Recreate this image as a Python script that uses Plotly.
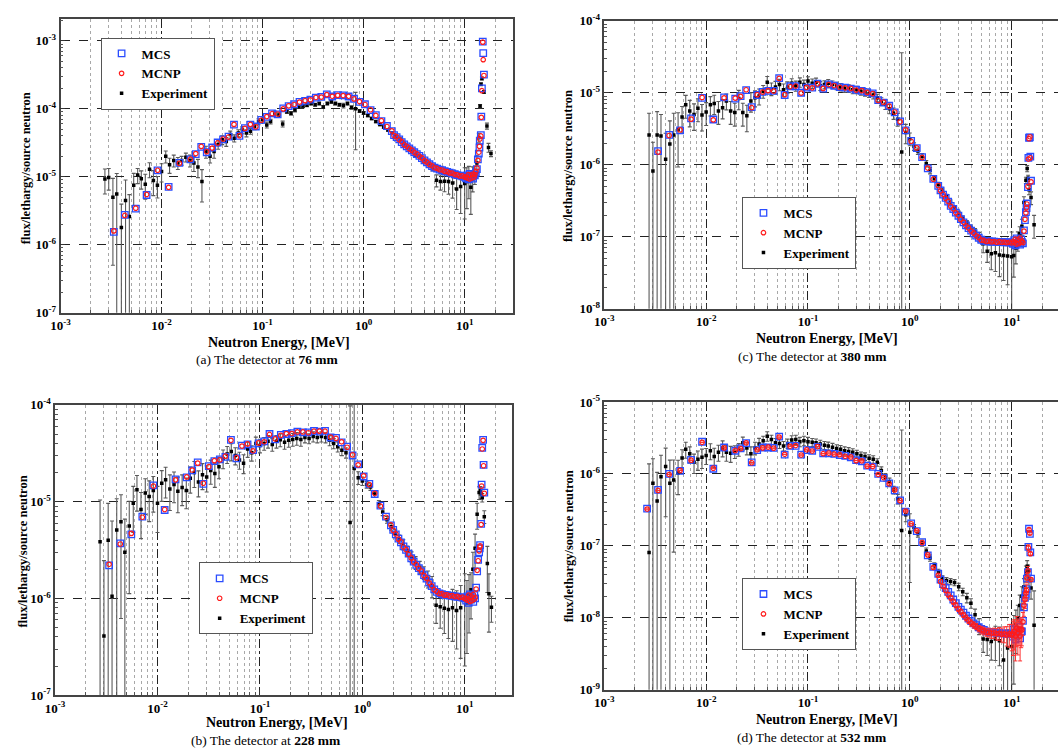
import math
import plotly.graph_objects as go

FONT = "Liberation Serif"
W, H = 1058, 755

# ---------------- energy grids (MeV) ----------------
sim_energy = [
    0.00263, 0.00337, 0.00433, 0.00555, 0.00711, 0.00912, 0.01175, 0.0150, 0.0193,
    0.0218, 0.0247, 0.0280, 0.0317, 0.0359, 0.0406, 0.0460, 0.0521, 0.0590, 0.0668, 0.0757, 0.0857, 0.0970,
    0.110, 0.124, 0.141, 0.160, 0.181, 0.205, 0.232, 0.263, 0.297, 0.337, 0.381,
    0.432, 0.489, 0.553, 0.627, 0.710, 0.803, 0.910, 1.03, 1.17, 1.32, 1.50,
    1.70, 1.90, 2.00, 2.12, 2.25, 2.38, 2.52, 2.67, 2.83, 3.00,
    3.17, 3.36, 3.56, 3.77, 4.00, 4.23, 4.48, 4.75, 5.03, 5.33,
    5.65, 5.98, 6.34, 6.71, 7.11, 7.53, 7.98, 8.45, 8.95, 9.48, 10.0,
    10.3, 10.6, 10.9, 11.2, 11.5, 11.8, 12.1, 12.4,
    12.6, 12.9, 13.2, 13.5, 13.8, 14.0, 14.1, 14.45, 14.6, 14.8, 15.1, 15.25, 15.5,
]

exp_energy = [
    0.00275, 0.0030, 0.0033, 0.0036, 0.0040, 0.0044, 0.0048, 0.0053, 0.0058, 0.0063,
    0.0069, 0.0076, 0.0083, 0.0091, 0.0100, 0.0110, 0.0120, 0.0132, 0.0145, 0.0158,
    0.0174, 0.0191, 0.0209, 0.0229, 0.0251, 0.0275, 0.0302, 0.0331, 0.0363, 0.0398,
    0.0437, 0.0479, 0.0525, 0.0575, 0.0631, 0.0692, 0.0759, 0.0832, 0.0912, 0.100,
    0.110, 0.120, 0.132, 0.145, 0.158, 0.174, 0.191, 0.209, 0.229, 0.251,
    0.275, 0.302, 0.331, 0.363, 0.398, 0.437, 0.479, 0.525, 0.575, 0.631,
    0.692, 0.759, 0.832, 0.912, 1.00, 1.10, 1.20, 1.32, 1.45, 1.58,
    1.74, 1.91, 2.09, 2.29, 2.51, 2.75, 3.02, 3.31, 3.63, 3.98,
    4.37, 4.79, 5.25, 5.75, 6.31, 6.92, 7.59, 8.32, 9.12, 10.0,
    10.5, 11.0, 11.5, 12.0, 12.6, 13.2, 13.8, 14.2, 14.5, 14.8,
    15.5, 16.6, 17.2, 18.2,
]

# ---------------- detector at 76 mm ----------------
mcs_76 = [
    None, 1.55e-6, 2.75e-6, 3.4e-6, 5.4e-6, 1.24e-5, 7.1e-6, 1.6e-5, 1.8e-5,
    2.16e-5, 2.75e-5, 2.3e-5, 2.7e-5, 3.2e-5, 3.55e-5, 3.9e-5, 5.85e-5, 4.0e-5, 5.2e-5, 5.85e-5, 5.5e-5, 6.9e-5,
    7.6e-5, 8.6e-5, 8.3e-5, 1.02e-4, 1.1e-4, 1.17e-4, 1.27e-4, 1.31e-4, 1.37e-4, 1.46e-4, 1.5e-4,
    1.63e-4, 1.52e-4, 1.59e-4, 1.58e-4, 1.52e-4, 1.41e-4, 1.27e-4, 1.17e-4, 9.6e-5, 8.1e-5, 6.6e-5,
    5.6e-5, 4.7e-5, 4.1e-5, 3.85e-5, 3.55e-5, 3.25e-5, 3.0e-5, 2.8e-5, 2.62e-5, 2.45e-5,
    2.3e-5, 2.16e-5, 2.03e-5, 1.88e-5, 1.75e-5, 1.63e-5, 1.53e-5, 1.44e-5, 1.37e-5, 1.32e-5,
    1.28e-5, 1.25e-5, 1.21e-5, 1.18e-5, 1.15e-5, 1.12e-5, 1.09e-5, 1.06e-5, 1.04e-5, 1.02e-5, 1.0e-5,
    9.5e-6, 1.05e-5, 9.2e-6, 1.1e-5, 9.8e-6, 1.02e-5, 9.4e-6, 1.08e-5,
    1.05e-5, 1.15e-5, 1.3e-5, 1.8e-5, 2.2e-5, 2.7e-5, 3.4e-5, 4.1e-5, 7.7e-5, 2.0e-4, 9.8e-4, 6.6e-4, 3.2e-4,
]
mcnp_76 = [
    None, 1.6e-6, 2.7e-6, 3.45e-6, 5.5e-6, 1.25e-5, 7.0e-6, 1.58e-5, 1.82e-5,
    2.2e-5, 2.8e-5, 2.35e-5, 2.65e-5, 3.15e-5, 3.6e-5, 3.85e-5, 5.9e-5, 4.05e-5, 5.15e-5, 5.9e-5, 5.45e-5, 6.8e-5,
    7.7e-5, 8.5e-5, 8.4e-5, 1.0e-4, 1.11e-4, 1.16e-4, 1.26e-4, 1.32e-4, 1.36e-4, 1.47e-4, 1.49e-4,
    1.62e-4, 1.53e-4, 1.58e-4, 1.57e-4, 1.53e-4, 1.4e-4, 1.28e-4, 1.16e-4, 9.7e-5, 8.0e-5, 6.7e-5,
    5.5e-5, 4.75e-5, 4.05e-5, 3.9e-5, 3.5e-5, 3.3e-5, 2.95e-5, 2.82e-5, 2.6e-5, 2.47e-5,
    2.28e-5, 2.18e-5, 2.0e-5, 1.9e-5, 1.73e-5, 1.64e-5, 1.52e-5, 1.45e-5, 1.36e-5, 1.33e-5,
    1.27e-5, 1.26e-5, 1.2e-5, 1.19e-5, 1.14e-5, 1.13e-5, 1.08e-5, 1.07e-5, 1.03e-5, 1.03e-5, 9.9e-6,
    1.0e-5, 9.6e-6, 1.08e-5, 9.3e-6, 1.06e-5, 9.6e-6, 1.1e-5, 9.9e-6,
    1.08e-5, 1.2e-5, 1.35e-5, 1.75e-5, 2.3e-5, 2.8e-5, 3.6e-5, 4.0e-5, 7.5e-5, 1.85e-4, 9.6e-4, 5.3e-4, 3.1e-4,
]
exp_76 = [
    9.3e-6, 9.8e-6, 5.0e-6, 5.6e-6, 1.8e-6, 4.5e-6, 2.6e-6, 7.5e-6, 1.06e-5, 9.4e-6,
    7.8e-6, 1.29e-5, 8.8e-6, 7.5e-6, 1.2e-5, 2.0e-5, 1.5e-5, 1.74e-5, 1.6e-5, 1.74e-5,
    1.94e-5, 1.74e-5, 1.6e-5, 1.39e-5, 8.5e-6, 2.35e-5, 2.0e-5, 2.35e-5, 3.0e-5, 3.5e-5,
    3.3e-5, 4.2e-5, 3.7e-5, 4.4e-5, 4.9e-5, 4.4e-5, 4.7e-5, 5.5e-5, 6.5e-5, 6.9e-5,
    5.8e-5, 6.5e-5, 8.6e-5, 8.1e-5, 6.0e-5, 9.1e-5, 8.6e-5, 9.6e-5, 1.07e-4, 1.1e-4,
    1.13e-4, 1.2e-4, 1.15e-4, 1.2e-4, 1.07e-4, 1.2e-4, 1.27e-4, 1.2e-4, 1.15e-4, 1.12e-4,
    1.2e-4, 1.05e-4, 1.0e-4, 9.3e-5, 8.7e-5, 8.0e-5, 7.2e-5, 6.5e-5, 5.9e-5, 5.4e-5,
    4.9e-5, 4.4e-5, 3.95e-5, 3.57e-5, 3.1e-5, 2.7e-5, 2.35e-5, 2.1e-5, 1.94e-5, 1.72e-5,
    1.55e-5, 1.35e-5, 8.9e-6, 8.5e-6, 8.6e-6, 8.5e-6, 8.1e-6, 6.6e-6, 7.2e-6, 8.0e-6,
    8.5e-6, 9.5e-6, 7.0e-6, 1.0e-5, 1.1e-5, 1.6e-5, 3.8e-5, 1.1e-4, 2.3e-4, 2.8e-4,
    1.77e-4, 5.6e-5, 2.7e-5, 2.2e-5,
]
exp_rel_err_76 = [
    0.4, 0.35, 0.9, 1.0, 1.2, 1.0, 1.1, 0.5, 0.25, 0.3,
    0.4, 0.25, 0.4, 0.35, 0.3, 0.2, 0.25, 0.2, 0.2, 0.15,
    0.15, 0.2, 0.25, 0.3, 0.5, 0.2, 0.2, 0.2, 0.15, 0.15,
    0.15, 0.12, 0.12, 0.12, 0.12, 0.12, 0.1, 0.1, 0.1, 0.1,
    0.1, 0.08, 0.08, 0.08, 0.1, 0.06, 0.06, 0.06, 0.05, 0.05,
    0.05, 0.05, 0.05, 0.05, 0.05, 0.05, 0.05, 0.05, 0.05, 0.08,
    0.05, 0.06, 0.75, 0.05, 0.05, 0.04, 0.04, 0.04, 0.04, 0.04,
    0.04, 0.04, 0.04, 0.04, 0.05, 0.05, 0.05, 0.05, 0.05, 0.05,
    0.06, 0.1, 0.2, 0.25, 0.3, 0.35, 0.4, 0.5, 0.6, 0.7,
    0.6, 0.5, 0.6, 0.4, 0.3, 0.3, 0.15, 0.05, 0.05, 0.05,
    0.05, 0.1, 0.15, 0.1,
]

# ---------------- detector at 380 mm ----------------
mcs_380 = [
    None, 1.55e-6, 2.6e-6, 3.0e-6, 4.4e-6, 8.5e-6, 4.25e-6, 8.6e-6, 8.3e-6,
    9.0e-6, 1.09e-5, 6.3e-6, 9.3e-6, 1.03e-5, 1.06e-5, 1.06e-5, 1.6e-5, 9.3e-6, 1.23e-5, 1.23e-5, 1.0e-5, 1.18e-5,
    1.18e-5, 1.34e-5, 1.14e-5, 1.31e-5, 1.25e-5, 1.2e-5, 1.18e-5, 1.14e-5, 1.1e-5, 1.06e-5, 1.02e-5,
    9.8e-6, 7.9e-6, 7.3e-6, 6.6e-6, 5.35e-6, 4.0e-6, 3.0e-6, 2.15e-6, 1.7e-6, 1.28e-6, 8.9e-7,
    6.35e-7, 5.1e-7, 4.4e-7, 3.85e-7, 3.47e-7, 3.08e-7, 2.68e-7, 2.43e-7, 2.17e-7, 1.96e-7,
    1.76e-7, 1.58e-7, 1.44e-7, 1.32e-7, 1.22e-7, 1.12e-7, 1.04e-7, 9.7e-8, 9.1e-8, 8.8e-8,
    8.7e-8, 8.6e-8, 8.6e-8, 8.55e-8, 8.5e-8, 8.5e-8, 8.45e-8, 8.4e-8, 8.4e-8, 8.35e-8, 8.3e-8,
    8.0e-8, 9.0e-8, 7.6e-8, 9.5e-8, 8.2e-8, 8.8e-8, 7.8e-8, 9.2e-8,
    8.5e-8, 8.1e-8, 1.23e-7, 1.7e-7, 2.2e-7, 2.5e-7, 2.9e-7, 4.9e-7, 1.25e-6, 2.37e-6, 2.4e-6, 1.3e-6, 6.0e-7,
]
mcnp_380 = [
    None, 1.5e-6, 2.55e-6, 3.05e-6, 4.3e-6, 8.6e-6, 4.2e-6, 8.5e-6, 8.4e-6,
    8.9e-6, 1.1e-5, 6.2e-6, 9.4e-6, 1.02e-5, 1.07e-5, 1.05e-5, 1.58e-5, 9.4e-6, 1.22e-5, 1.24e-5, 9.9e-6, 1.19e-5,
    1.17e-5, 1.33e-5, 1.15e-5, 1.3e-5, 1.26e-5, 1.19e-5, 1.17e-5, 1.15e-5, 1.09e-5, 1.07e-5, 1.01e-5,
    9.7e-6, 7.8e-6, 7.4e-6, 6.5e-6, 5.4e-6, 3.95e-6, 3.05e-6, 2.12e-6, 1.72e-6, 1.26e-6, 9.0e-7,
    6.3e-7, 5.15e-7, 4.35e-7, 3.9e-7, 3.42e-7, 3.1e-7, 2.65e-7, 2.45e-7, 2.15e-7, 1.98e-7,
    1.74e-7, 1.6e-7, 1.42e-7, 1.33e-7, 1.2e-7, 1.13e-7, 1.03e-7, 9.8e-8, 9.0e-8, 8.9e-8,
    8.6e-8, 8.7e-8, 8.5e-8, 8.6e-8, 8.4e-8, 8.55e-8, 8.4e-8, 8.45e-8, 8.3e-8, 8.4e-8, 8.2e-8,
    8.6e-8, 8.3e-8, 9.3e-8, 7.9e-8, 9.1e-8, 8.1e-8, 9.6e-8, 8.4e-8,
    8.8e-8, 8.3e-8, 1.2e-7, 1.75e-7, 2.15e-7, 2.55e-7, 2.85e-7, 5.0e-7, 1.2e-6, 2.3e-6, 2.45e-6, 1.25e-6, 5.8e-7,
]
exp_380 = [
    2.6e-6, 8.2e-7, 2.6e-6, 2.5e-6, 1.19e-6, 1.94e-6, 2.6e-6, 3.1e-6, 4.6e-6, 6.8e-6,
    5.6e-6, 5.0e-6, 6.1e-6, 4.9e-6, 5.4e-6, 6.8e-6, 7.1e-6, 5.6e-6, 6.2e-6, 7.7e-6,
    5.6e-6, 5.3e-6, 8.3e-6, 5.3e-6, 4.8e-6, 7.7e-6, 8.5e-6, 9.0e-6, 1.05e-5, 1.4e-5,
    1.14e-5, 1.2e-5, 1.3e-5, 1.1e-5, 1.2e-5, 1.35e-5, 1.25e-5, 1.4e-5, 1.3e-5, 1.45e-5,
    1.35e-5, 1.4e-5, 1.25e-5, 1.3e-5, 1.35e-5, 1.3e-5, 1.25e-5, 1.2e-5, 1.15e-5, 1.15e-5,
    1.1e-5, 1.1e-5, 1.05e-5, 1.02e-5, 9.8e-6, 9.3e-6, 8.5e-6, 7.6e-6, 6.9e-6, 6.0e-6,
    5.2e-6, 4.3e-6, 1.5e-6, 2.8e-6, 2.3e-6, 1.8e-6, 1.55e-6, 1.3e-6, 1.04e-6, 8.3e-7,
    6.5e-7, 5.3e-7, 4.4e-7, 3.6e-7, 3.0e-7, 2.5e-7, 2.1e-7, 1.8e-7, 1.55e-7, 1.35e-7,
    1.18e-7, 1.0e-7, 8.0e-8, 6.3e-8, 5.8e-8, 6.0e-8, 5.6e-8, 5.5e-8, 5.4e-8, 5.3e-8,
    5.5e-8, 7.0e-8, 9.0e-8, 1.1e-7, 1.4e-7, 3.0e-7, 6.1e-7, 8.9e-7, 6.5e-7, 4.5e-7,
    3.5e-7, 1.47e-7, None, None,
]
exp_rel_err_380 = [
    1.0, 1.5, 1.1, 1.0, 1.3, 1.1, 1.0, 0.7, 0.4, 0.35,
    0.4, 0.4, 0.35, 0.4, 0.35, 0.3, 0.3, 0.35, 0.3, 0.25,
    0.35, 0.35, 0.3, 0.35, 0.4, 0.3, 0.25, 0.25, 0.2, 0.2,
    0.2, 0.2, 0.18, 0.2, 0.18, 0.16, 0.16, 0.15, 0.15, 0.15,
    0.15, 0.14, 0.14, 0.13, 0.13, 0.12, 0.12, 0.12, 0.12, 0.12,
    0.12, 0.12, 0.12, 0.12, 0.12, 0.12, 0.12, 0.12, 0.15, 0.15,
    0.18, 0.2, 23.0, 0.3, 0.2, 0.12, 0.1, 0.1, 0.1, 0.1,
    0.08, 0.08, 0.08, 0.08, 0.08, 0.08, 0.08, 0.08, 0.08, 0.08,
    0.1, 0.15, 0.25, 0.3, 0.4, 0.45, 0.5, 0.55, 0.6, 1.2,
    0.5, 0.4, 0.3, 0.25, 0.25, 0.2, 0.1, 0.1, 0.1, 0.15,
    0.2, 0.35, None, None,
]

# ---------------- detector at 228 mm ----------------
mcs_228 = [
    None, 2.2e-6, 3.7e-6, 4.6e-6, 7.0e-6, 1.47e-5, 8.2e-6, 1.7e-5, 1.78e-5,
    2.1e-5, 2.54e-5, 1.53e-5, 2.33e-5, 2.62e-5, 2.74e-5, 2.9e-5, 4.35e-5, 2.8e-5, 3.8e-5, 3.9e-5, 3.4e-5, 4.0e-5,
    4.2e-5, 5.0e-5, 4.4e-5, 4.9e-5, 5.0e-5, 5.1e-5, 5.3e-5, 5.2e-5, 5.2e-5, 5.4e-5, 5.3e-5,
    5.4e-5, 4.6e-5, 4.55e-5, 4.1e-5, 3.7e-5, 3.0e-5, 2.43e-5, 1.82e-5, 1.53e-5, 1.2e-5, 9.1e-6,
    7.0e-6, 5.7e-6, 5.1e-6, 4.6e-6, 4.15e-6, 3.8e-6, 3.45e-6, 3.17e-6, 2.9e-6, 2.6e-6,
    2.4e-6, 2.22e-6, 2.06e-6, 1.9e-6, 1.74e-6, 1.6e-6, 1.46e-6, 1.34e-6, 1.24e-6, 1.17e-6,
    1.13e-6, 1.11e-6, 1.09e-6, 1.08e-6, 1.07e-6, 1.06e-6, 1.05e-6, 1.04e-6, 1.03e-6, 1.02e-6, 1.0e-6,
    9.5e-7, 1.05e-6, 9.0e-7, 1.1e-6, 9.7e-7, 1.03e-6, 9.2e-7, 1.08e-6,
    1.0e-6, 1.29e-6, 1.9e-6, 2.5e-6, 3.0e-6, 3.3e-6, 3.56e-6, 5.9e-6, 1.5e-5, 3.6e-5, 4.35e-5, 2.4e-5, 1.24e-5,
]
mcnp_228 = [
    None, 2.25e-6, 3.65e-6, 4.7e-6, 6.9e-6, 1.45e-5, 8.3e-6, 1.68e-5, 1.8e-5,
    2.12e-5, 2.5e-5, 1.55e-5, 2.3e-5, 2.65e-5, 2.7e-5, 2.95e-5, 4.3e-5, 2.85e-5, 3.75e-5, 3.95e-5, 3.35e-5, 4.05e-5,
    4.15e-5, 4.95e-5, 4.45e-5, 4.85e-5, 5.05e-5, 5.05e-5, 5.25e-5, 5.25e-5, 5.15e-5, 5.35e-5, 5.35e-5,
    5.35e-5, 4.65e-5, 4.5e-5, 4.15e-5, 3.65e-5, 3.05e-5, 2.4e-5, 1.85e-5, 1.5e-5, 1.22e-5, 9.0e-6,
    6.9e-6, 5.75e-6, 5.05e-6, 4.65e-6, 4.1e-6, 3.85e-6, 3.4e-6, 3.2e-6, 2.85e-6, 2.62e-6,
    2.38e-6, 2.24e-6, 2.04e-6, 1.92e-6, 1.72e-6, 1.62e-6, 1.45e-6, 1.35e-6, 1.23e-6, 1.18e-6,
    1.12e-6, 1.12e-6, 1.08e-6, 1.09e-6, 1.06e-6, 1.07e-6, 1.04e-6, 1.05e-6, 1.02e-6, 1.03e-6, 9.9e-7,
    1.0e-6, 9.6e-7, 1.08e-6, 9.3e-7, 1.06e-6, 9.5e-7, 1.1e-6, 9.8e-7,
    1.02e-6, 1.25e-6, 1.95e-6, 2.45e-6, 3.1e-6, 3.4e-6, 3.5e-6, 5.8e-6, 1.45e-5, 3.5e-5, 4.3e-5, 2.35e-5, 1.22e-5,
]
exp_228 = [
    3.85e-6, 4.1e-7, 4.0e-6, 1.05e-6, 5.1e-6, 6.2e-6, 3.0e-6, 5.6e-6, 9.6e-6, 1.33e-5,
    8.3e-6, 1.23e-5, 1.13e-5, 1.3e-5, 9.6e-6, 1.55e-5, 1.68e-5, 1.35e-5, 1.5e-5, 1.28e-5,
    1.4e-5, 1.3e-5, 1.75e-5, 2.0e-5, 1.6e-5, 1.9e-5, 1.8e-5, 2.1e-5, 1.95e-5, 2.3e-5,
    2.8e-5, 3.1e-5, 3.3e-5, 3.0e-5, 2.7e-5, 2.5e-5, 3.5e-5, 3.2e-5, 4.0e-5, 3.8e-5,
    4.0e-5, 4.2e-5, 3.9e-5, 4.2e-5, 4.35e-5, 4.1e-5, 4.3e-5, 4.4e-5, 4.5e-5, 4.4e-5,
    4.6e-5, 4.5e-5, 4.7e-5, 4.6e-5, 4.7e-5, 4.6e-5, 4.3e-5, 4.0e-5, 3.7e-5, 3.4e-5,
    3.2e-5, 6.1e-6, 2.2e-5, 1.77e-5, 1.63e-5, 1.5e-5, 1.42e-5, 1.2e-5, 9.5e-6, 7.8e-6,
    6.5e-6, 5.5e-6, 4.7e-6, 4.1e-6, 3.6e-6, 3.1e-6, 2.7e-6, 2.35e-6, 2.1e-6, 1.85e-6,
    1.6e-6, 1.35e-6, 8.5e-7, 8.2e-7, 7.9e-7, 7.7e-7, 8.0e-7, 7.5e-7, 8.0e-7, 1.0e-6,
    9.0e-7, 1.1e-6, 1.23e-6, 2.0e-6, 3.3e-6, 7.4e-6, 1.24e-5, 1.3e-5, 1.2e-5, 1.1e-5,
    7.0e-6, 2.3e-6, 1.12e-6, 8.1e-7,
]
exp_rel_err_228 = [
    1.7, 5.0, 1.4, 5.0, 1.1, 0.9, 1.2, 0.8, 0.5, 0.4,
    0.5, 0.4, 0.45, 0.4, 0.5, 0.35, 0.35, 0.4, 0.35, 0.4,
    0.35, 0.35, 0.3, 0.3, 0.3, 0.3, 0.3, 0.28, 0.28, 0.25,
    0.22, 0.2, 0.2, 0.2, 0.2, 0.22, 0.18, 0.18, 0.16, 0.16,
    0.15, 0.15, 0.15, 0.15, 0.15, 0.15, 0.15, 0.15, 0.15, 0.15,
    0.12, 0.12, 0.12, 0.12, 0.12, 0.12, 0.12, 0.12, 0.12, 0.12,
    0.12, 15.0, 4.0, 0.15, 0.1, 0.08, 0.08, 0.08, 0.08, 0.08,
    0.08, 0.08, 0.1, 0.1, 0.12, 0.12, 0.12, 0.15, 0.15, 0.15,
    0.2, 0.25, 0.35, 0.4, 0.45, 0.5, 0.55, 0.6, 0.7, 0.8,
    0.7, 0.6, 0.5, 0.5, 0.4, 0.3, 0.15, 0.1, 0.1, 0.1,
    0.15, 0.5, 0.6, 0.3,
]

# ---------------- detector at 532 mm ----------------
mcs_532 = [
    3.3e-7, 6.0e-7, 1.0e-6, 1.1e-6, 1.57e-6, 2.8e-6, 1.18e-6, 2.33e-6, 2.1e-6,
    2.26e-6, 2.67e-6, 1.45e-6, 2.14e-6, 2.33e-6, 2.33e-6, 2.3e-6, 3.3e-6, 1.85e-6, 2.45e-6, 2.45e-6, 1.85e-6, 2.14e-6,
    2.1e-6, 2.38e-6, 1.93e-6, 1.93e-6, 1.9e-6, 1.83e-6, 1.78e-6, 1.7e-6, 1.55e-6, 1.5e-6, 1.3e-6,
    1.25e-6, 1.0e-6, 8.8e-7, 7.4e-7, 5.9e-7, 4.3e-7, 3.0e-7, 2.06e-7, 1.6e-7, 1.13e-7, 7.4e-8,
    5.1e-8, 4.1e-8, 3.4e-8, 2.95e-8, 2.6e-8, 2.3e-8, 2.05e-8, 1.8e-8, 1.6e-8, 1.42e-8,
    1.3e-8, 1.18e-8, 1.07e-8, 9.8e-9, 9.0e-9, 8.4e-9, 7.9e-9, 7.4e-9, 7.05e-9, 6.8e-9,
    6.5e-9, 6.4e-9, 6.3e-9, 6.3e-9, 6.2e-9, 6.2e-9, 6.1e-9, 6.1e-9, 6.0e-9, 6.1e-9, 6.0e-9,
    5.5e-9, 7.0e-9, 5.0e-9, 6.8e-9, 5.8e-9, 7.5e-9, 5.2e-9, 6.5e-9,
    6.5e-9, 9.1e-9, 1.4e-8, 1.9e-8, 2.1e-8, 2.5e-8, 3.5e-8, 4.3e-8, 9.7e-8, 1.73e-7, 1.47e-7, 8.1e-8, 3.5e-8,
]
mcnp_532 = [
    3.25e-7, 5.9e-7, 9.8e-7, 1.12e-6, 1.55e-6, 2.75e-6, 1.2e-6, 2.3e-6, 2.12e-6,
    2.24e-6, 2.7e-6, 1.43e-6, 2.16e-6, 2.3e-6, 2.36e-6, 2.28e-6, 3.25e-6, 1.87e-6, 2.42e-6, 2.48e-6, 1.83e-6, 2.16e-6,
    2.08e-6, 2.4e-6, 1.91e-6, 1.95e-6, 1.88e-6, 1.85e-6, 1.76e-6, 1.72e-6, 1.53e-6, 1.52e-6, 1.28e-6,
    1.27e-6, 9.8e-7, 8.9e-7, 7.3e-7, 6.0e-7, 4.25e-7, 3.05e-7, 2.03e-7, 1.62e-7, 1.11e-7, 7.5e-8,
    5.0e-8, 3.9e-8, 3.2e-8, 2.75e-8, 2.4e-8, 2.1e-8, 1.9e-8, 1.68e-8, 1.5e-8, 1.33e-8,
    1.22e-8, 1.1e-8, 1.0e-8, 9.2e-9, 8.5e-9, 8.0e-9, 7.6e-9, 7.1e-9, 6.8e-9, 6.6e-9,
    6.3e-9, 6.3e-9, 6.1e-9, 6.2e-9, 6.0e-9, 6.1e-9, 5.9e-9, 6.0e-9, 5.8e-9, 6.0e-9, 5.8e-9,
    6.0e-9, 6.5e-9, 5.6e-9, 7.2e-9, 6.1e-9, 6.9e-9, 5.6e-9, 7.0e-9,
    6.8e-9, 8.8e-9, 1.5e-8, 1.8e-8, 2.2e-8, 2.4e-8, 3.6e-8, 4.5e-8, 9.4e-8, 1.68e-7, 1.5e-7, 7.8e-8, 3.4e-8,
]
mcnp_rel_err_532 = [
    0, 0, 0, 0, 0, 0, 0, 0, 0,
    0, 0, 0, 0, 0, 0, 0, 0, 0, 0, 0, 0, 0,
    0, 0, 0, 0, 0, 0, 0, 0, 0, 0, 0,
    0, 0, 0, 0, 0, 0, 0, 0, 0, 0, 0,
    0.05, 0.05, 0.06, 0.06, 0.06, 0.07, 0.07, 0.08, 0.08, 0.08,
    0.08, 0.08, 0.09, 0.09, 0.1, 0.1, 0.1, 0.1, 0.12, 0.12,
    0.12, 0.14, 0.15, 0.16, 0.18, 0.2, 0.22, 0.25, 0.3, 0.35, 0.4,
    0.5, 0.45, 0.55, 0.45, 0.5, 0.4, 0.55, 0.45,
    0.4, 0.35, 0.3, 0.25, 0.2, 0.2, 0.15, 0.15, 0.1, 0.05, 0.05, 0.05, 0.05,
]
exp_532 = [
    8.1e-8, 7.4e-7, 4.2e-7, 9.1e-7, 1.27e-6, 7.4e-7, 8.2e-7, 1.03e-6, 1.67e-6, 2.2e-6,
    1.9e-6, 1.45e-6, 1.6e-6, 1.7e-6, 1.8e-6, 2.1e-6, 1.75e-6, 2.0e-6, 2.3e-6, 2.0e-6,
    1.93e-6, 2.05e-6, 2.2e-6, 2.7e-6, 2.3e-6, 1.9e-6, 2.3e-6, 2.6e-6, 2.9e-6, 3.35e-6,
    3.0e-6, 2.7e-6, 2.65e-6, 2.45e-6, 2.65e-6, 2.95e-6, 3.0e-6, 2.8e-6, 2.9e-6, 2.8e-6,
    2.75e-6, 2.7e-6, 2.6e-6, 2.5e-6, 2.45e-6, 2.35e-6, 2.25e-6, 2.2e-6, 2.1e-6, 2.05e-6,
    2.0e-6, 1.9e-6, 1.8e-6, 1.75e-6, 1.65e-6, 1.6e-6, 1.45e-6, 1.12e-6, 9.0e-7, 7.8e-7,
    6.0e-7, 4.5e-7, 1.63e-7, 2.7e-7, 1.55e-7, 1.8e-7, 1.47e-7, 1.1e-7, 8.5e-8, 6.8e-8,
    5.3e-8, 4.3e-8, 3.5e-8, 3.3e-8, 3.2e-8, 3.1e-8, 2.7e-8, 2.3e-8, 1.9e-8, 1.6e-8,
    1.1e-8, 7.8e-9, 5.1e-9, 5.0e-9, 4.7e-9, 5.1e-9, 4.8e-9, 2.6e-9, 3.8e-9, 4.0e-9,
    6.0e-9, 8.0e-9, 1.0e-8, 1.48e-8, 2.0e-8, 2.7e-8, 4.2e-8, 5.2e-8, 4.5e-8, 3.5e-8,
    2.6e-8, 7.9e-9, None, None,
]
exp_rel_err_532 = [
    16.0, 1.2, 1.5, 1.0, 0.8, 1.1, 0.9, 0.5, 0.3, 0.25,
    0.25, 0.3, 0.3, 0.3, 0.25, 0.25, 0.3, 0.25, 0.25, 0.25,
    0.25, 0.2, 0.2, 0.2, 0.2, 0.25, 0.2, 0.2, 0.15, 0.15,
    0.15, 0.15, 0.15, 0.15, 0.15, 0.15, 0.15, 0.15, 0.15, 0.15,
    0.13, 0.13, 0.13, 0.13, 0.13, 0.13, 0.13, 0.13, 0.13, 0.13,
    0.12, 0.12, 0.12, 0.12, 0.12, 0.12, 0.12, 0.12, 0.12, 0.12,
    0.12, 0.15, 24.0, 0.2, 0.8, 0.1, 0.1, 0.1, 0.1, 0.1,
    0.1, 0.1, 0.1, 0.1, 0.1, 0.1, 0.12, 0.12, 0.15, 0.15,
    0.2, 0.25, 0.35, 0.4, 0.45, 0.5, 0.55, 1.2, 0.8, 0.9,
    0.8, 0.6, 0.5, 0.4, 0.35, 0.3, 0.25, 0.2, 0.2, 0.25,
    0.3, 2.0, None, None,
]

x_tick_vals = [1e-3, 1e-2, 1e-1, 1e0, 1e1]
x_tick_text = ["10<sup>-3</sup>", "10<sup>-2</sup>", "10<sup>-1</sup>", "10<sup>0</sup>", "10<sup>1</sup>"]


def abs_err(values, rel):
    out = []
    for v, r in zip(values, rel):
        out.append(v * r if (v is not None and r) else None)
    return out


def px(x):
    return x / W


def py(y):
    return 1 - y / H


# panel layout in pixels: plot box (left, right, top, bottom)
panels = [
    dict(tag="a", mm="76", mcs=mcs_76, mcnp=mcnp_76, exp=exp_76, err=exp_rel_err_76, mcnp_err=None,
         box=(51, 508, 10.7, 310.7), xr=(-3, 1.48), yr=(-7, -2.684), right_line=True,
         legend=(149, 66), ytitle=(16, 163), xtitle=(272, 341), caption=(260, 359)),
    dict(tag="c", mm="380", mcs=mcs_380, mcnp=mcnp_380, exp=exp_380, err=exp_rel_err_380, mcnp_err=None,
         box=(600, 1058, 12, 306.7), xr=(-3, 1.455), yr=(-8, -4), right_line=False,
         legend=(797, 229), ytitle=(564, 161), xtitle=(825, 337), caption=(810, 355)),
    dict(tag="b", mm="228", mcs=mcs_228, mcnp=mcnp_228, exp=exp_228, err=exp_rel_err_228, mcnp_err=None,
         box=(45.5, 506.7, 405, 702), xr=(-3, 1.46), yr=(-7, -4), right_line=True,
         legend=(248, 603), ytitle=(13, 555), xtitle=(270, 730), caption=(258, 748)),
    dict(tag="d", mm="532", mcs=mcs_532, mcnp=mcnp_532, exp=exp_532, err=exp_rel_err_532,
         mcnp_err=mcnp_rel_err_532,
         box=(600, 1058, 402, 696.5), xr=(-3, 1.455), yr=(-9, -5), right_line=False,
         legend=(797, 619), ytitle=(564, 550), xtitle=(825, 727), caption=(810, 745)),
]

fig = go.Figure()
layout = {}
annotations = []

x_minor = [m * 10.0 ** d for d in range(-3, 2) for m in range(2, 10)]

for i, p in enumerate(panels, start=1):
    sfx = "" if i == 1 else str(i)
    xref, yref = "x" + sfx, "y" + sfx
    leg = "legend" + sfx

    # experiment
    fig.add_trace(go.Scatter(
        x=exp_energy, y=p["exp"], mode="markers", name="Experiment",
        xaxis=xref, yaxis=yref, legend=leg, legendrank=3,
        marker=dict(symbol="square", size=3.5, color="black"),
        error_y=dict(type="data", array=abs_err(p["exp"], p["err"]), symmetric=True,
                     color="#5a5a5a", thickness=1.1, width=2),
    ))
    # MCS
    fig.add_trace(go.Scatter(
        x=sim_energy, y=p["mcs"], mode="markers", name="MCS",
        xaxis=xref, yaxis=yref, legend=leg, legendrank=1,
        marker=dict(symbol="square-open", size=6.5, color="#2a4cff", line=dict(width=1.3)),
    ))
    # MCNP
    mcnp_kw = {}
    if p["mcnp_err"] is not None:
        mcnp_kw["error_y"] = dict(type="data", array=abs_err(p["mcnp"], p["mcnp_err"]),
                                  symmetric=True, color="#ff3030", thickness=1, width=2)
    fig.add_trace(go.Scatter(
        x=sim_energy, y=p["mcnp"], mode="markers", name="MCNP",
        xaxis=xref, yaxis=yref, legend=leg, legendrank=2,
        marker=dict(symbol="circle-open", size=4.5, color="#ff1a1a", line=dict(width=1.2)),
        **mcnp_kw,
    ))

    l, r, t, b = p["box"]
    y_lo, y_hi = p["yr"]
    dec = [d for d in range(int(math.floor(y_lo)), int(math.floor(y_hi)) + 1) if y_lo <= d <= y_hi]
    y_minor = [m * 10.0 ** d for d in range(int(y_lo), int(math.floor(y_hi)) + 1) for m in range(2, 10)
               if y_lo < d + math.log10(m) < y_hi]

    layout["xaxis" + sfx] = dict(
        type="log", domain=[px(l), px(r)], range=list(p["xr"]), anchor=yref,
        tickmode="array", tickvals=x_tick_vals, ticktext=x_tick_text,
        ticks="inside", ticklen=5, tickcolor="#333",
        tickfont=dict(family=FONT, size=13, color="black", weight="bold"),
        showline=True, linecolor="#444", linewidth=1.5, mirror=True,
        showgrid=True, gridcolor="#222", griddash="dashdot", gridwidth=1,
        minor=dict(tickmode="array", tickvals=x_minor, ticks="inside", ticklen=3, tickcolor="#555",
                   showgrid=True, gridcolor="#a8a8a8", griddash="dot", gridwidth=1),
        zeroline=False,
    )
    layout["yaxis" + sfx] = dict(
        type="log", domain=[py(b), py(t)], range=[y_lo, y_hi], anchor=xref,
        tickmode="array", tickvals=[10.0 ** d for d in dec],
        ticktext=["10<sup>%d</sup>" % d for d in dec],
        ticks="inside", ticklen=5, tickcolor="#333",
        tickfont=dict(family=FONT, size=13, color="black", weight="bold"),
        showline=True, linecolor="#444", linewidth=1.5, mirror=p["right_line"],
        showgrid=True, gridcolor="#222", griddash="dash", gridwidth=1,
        minor=dict(tickmode="array", tickvals=y_minor, ticks="inside", ticklen=3, tickcolor="#555",
                   showgrid=False),
        zeroline=False,
    )
    lx, ly = p["legend"]
    layout[leg] = dict(
        x=px(lx), y=py(ly), xanchor="center", yanchor="middle",
        bgcolor="white", bordercolor="#555", borderwidth=1,
        font=dict(family=FONT, size=13, color="black", weight="bold"),
        traceorder="normal", itemwidth=30, tracegroupgap=0,
    )

    ytx, yty = p["ytitle"]
    annotations.append(dict(
        x=px(ytx), y=py(yty), xref="paper", yref="paper", showarrow=False, textangle=-90,
        xanchor="center", yanchor="middle",
        text="flux/lethargy/source neutron",
        font=dict(family=FONT, size=12.5, color="black", weight="bold"),
    ))
    xtx, xty = p["xtitle"]
    annotations.append(dict(
        x=px(xtx), y=py(xty), xref="paper", yref="paper", showarrow=False,
        xanchor="center", yanchor="middle",
        text="Neutron Energy, [MeV]",
        font=dict(family=FONT, size=14, color="black", weight="bold"),
    ))
    cx, cy = p["caption"]
    annotations.append(dict(
        x=px(cx), y=py(cy), xref="paper", yref="paper", showarrow=False,
        xanchor="center", yanchor="middle",
        text="(%s) The detector at <b>%s mm</b>" % (p["tag"], p["mm"]),
        font=dict(family=FONT, size=13.5, color="black"),
    ))

fig.update_layout(
    width=W, height=H, margin=dict(l=0, r=0, t=0, b=0),
    paper_bgcolor="white", plot_bgcolor="white",
    annotations=annotations, showlegend=True,
    **layout,
)

fig.write_html("out.html")
